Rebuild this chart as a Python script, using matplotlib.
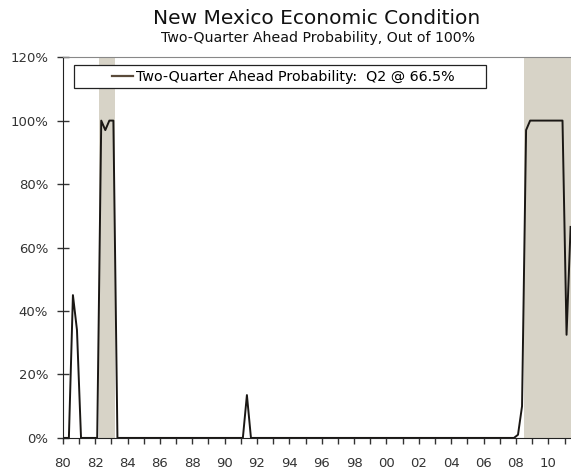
import matplotlib
matplotlib.use("Agg")
import matplotlib.pyplot as plt
from matplotlib.lines import Line2D
from matplotlib.patches import Rectangle
import numpy as np

# Quarterly two-quarter-ahead probability (%), one row per year, Q1..Q4
years = list(range(1980, 2012))
prob_by_year = [
    [0, 0, 45, 34],      # 1980
    [0, 0, 0, 0],        # 1981
    [0, 100, 97, 100],   # 1982
    [100, 0, 0, 0],      # 1983
    [0, 0, 0, 0],        # 1984
    [0, 0, 0, 0],        # 1985
    [0, 0, 0, 0],        # 1986
    [0, 0, 0, 0],        # 1987
    [0, 0, 0, 0],        # 1988
    [0, 0, 0, 0],        # 1989
    [0, 0, 0, 0],        # 1990
    [0, 13.5, 0, 0],     # 1991
    [0, 0, 0, 0],        # 1992
    [0, 0, 0, 0],        # 1993
    [0, 0, 0, 0],        # 1994
    [0, 0, 0, 0],        # 1995
    [0, 0, 0, 0],        # 1996
    [0, 0, 0, 0],        # 1997
    [0, 0, 0, 0],        # 1998
    [0, 0, 0, 0],        # 1999
    [0, 0, 0, 0],        # 2000
    [0, 0, 0, 0],        # 2001
    [0, 0, 0, 0],        # 2002
    [0, 0, 0, 0],        # 2003
    [0, 0, 0, 0],        # 2004
    [0, 0, 0, 0],        # 2005
    [0, 0, 0, 0],        # 2006
    [0, 0, 0, 0],        # 2007
    [1, 10, 97, 100],    # 2008
    [100, 100, 100, 100],  # 2009
    [100, 100, 100, 100],  # 2010
    [32.5, 66.5],        # 2011
]

# shaded recession periods (start, end) in fractional years
recessions = [(1982.25, 1983.25), (2008.5, 2011.6)]

y_ticks = [0, 20, 40, 60, 80, 100, 120]
y_labels = ["0%", "20%", "40%", "60%", "80%", "100%", "120%"]
x_label_years = list(range(1980, 2012, 2))

# build quarter positions (mid-quarter)
dates = []
values = []
for yr, row in zip(years, prob_by_year):
    for q, v in enumerate(row):
        dates.append(yr + (q + 0.5) / 4)
        values.append(v)

fig = plt.figure(figsize=(5.71, 4.76), dpi=100)
ax = fig.add_axes([0.11, 0.08, 0.89, 0.80])

for start, end in recessions:
    ax.axvspan(start, end, color="#d7d3c7", lw=0, zorder=0)

ax.plot(dates, values, color="#1a1714", lw=1.4, zorder=3)

ax.set_xlim(1980, 2011.4)
ax.set_ylim(0, 120)

ax.set_yticks(y_ticks)
ax.set_yticklabels(y_labels)
ax.set_xticks(range(1980, 2012))
ax.set_xticklabels([str(y)[2:] if y in x_label_years else "" for y in range(1980, 2012)])
ax.tick_params(axis="both", labelsize=9.5, colors="#333333", width=1)
ax.tick_params(axis="y", direction="inout", length=9, pad=6)
ax.tick_params(axis="x", direction="out", length=4, pad=10)

ax.spines["right"].set_visible(False)
ax.spines["top"].set_color("#888888")
ax.spines["left"].set_color("#222222")
ax.spines["bottom"].set_color("#222222")

# legend box drawn by hand, legend entry placed inside it
box = Rectangle((0.022, 0.919), 0.811, 0.060, transform=ax.transAxes,
                facecolor="white", edgecolor="#222222", lw=0.9, zorder=4)
ax.add_patch(box)
handle = Line2D([], [], color="#5a4a3a", lw=1.6)
leg = ax.legend([handle], ["Two-Quarter Ahead Probability:  Q2 @ 66.5%"],
                loc="center left", bbox_to_anchor=(0.096, 0.9475),
                frameon=False, borderpad=0, borderaxespad=0, fontsize=10.3,
                handlelength=1.47, handletextpad=0.23)
leg.set_zorder(5)

fig.text(0.555, 0.962, "New Mexico Economic Condition", ha="center", va="center",
         fontsize=14.5, color="#111111")
fig.text(0.557, 0.920, "Two-Quarter Ahead Probability, Out of 100%", ha="center", va="center",
         fontsize=10.2, color="#111111")

plt.savefig("out.png", dpi=100)
